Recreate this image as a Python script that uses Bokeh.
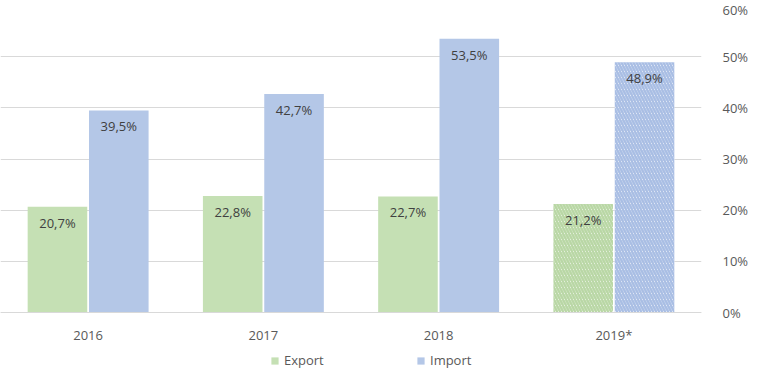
from bokeh.plotting import figure
from bokeh.models import ColumnDataSource, FixedTicker, PrintfTickFormatter, Legend, LegendItem
from bokeh.transform import dodge
from bokeh.core.properties import value
from bokeh.embed import file_html
from bokeh.resources import INLINE

years = ["2016", "2017", "2018", "2019*"]
export_vals = [20.7, 22.8, 22.7, 21.2]
import_vals = [39.5, 42.7, 53.5, 48.9]
y_ticks = [0, 10, 20, 30, 40, 50, 60]

GREEN = "#C5E0B4"
BLUE = "#B4C7E7"
FONT = "Open Sans"

def fmt(v):
    return ("%.1f%%" % v).replace(".", ",")

src_e = ColumnDataSource(dict(year=years[:3], v=export_vals[:3], lab=[fmt(v) for v in export_vals[:3]]))
src_i = ColumnDataSource(dict(year=years[:3], v=import_vals[:3], lab=[fmt(v) for v in import_vals[:3]]))
src_e2 = ColumnDataSource(dict(year=years[3:], v=export_vals[3:], lab=[fmt(v) for v in export_vals[3:]]))
src_i2 = ColumnDataSource(dict(year=years[3:], v=import_vals[3:], lab=[fmt(v) for v in import_vals[3:]]))

# extra room below zero holds the year labels and the legend
p = figure(x_range=years, y_range=(-11.7, 60), width=758, height=372,
           y_axis_location="right", output_backend="svg", toolbar_location=None,
           min_border_left=0, min_border_right=57, min_border_top=5, min_border_bottom=0)
p.outline_line_color = None
p.background_fill_color = "white"
p.border_fill_color = "white"

W = 0.34
OFF = 0.175
re = p.vbar(x=dodge("year", -OFF, range=p.x_range), top="v", width=W, source=src_e,
            fill_color=GREEN, line_color=None)
ri = p.vbar(x=dodge("year", OFF, range=p.x_range), top="v", width=W, source=src_i,
            fill_color=BLUE, line_color=None)
p.vbar(x=dodge("year", -OFF, range=p.x_range), top="v", width=W, source=src_e2,
       fill_color="white", line_color=None, hatch_pattern="\\", hatch_color="#B9D7A5",
       hatch_scale=6, hatch_weight=2.5)
p.vbar(x=dodge("year", OFF, range=p.x_range), top="v", width=W, source=src_i2,
       fill_color="white", line_color=None, hatch_pattern="\\", hatch_color="#A9BEE4",
       hatch_scale=6, hatch_weight=2.5)

for s, off in [(src_e, -OFF), (src_i, OFF), (src_e2, -OFF), (src_i2, OFF)]:
    p.text(x=dodge("year", off, range=p.x_range), y="v", text="lab", source=s,
           text_align="center", text_baseline="middle", y_offset=16,
           text_font=value(FONT), text_font_size="13px", text_color="#404040")

p.xgrid.grid_line_color = None
p.ygrid.grid_line_color = "#D9D9D9"
p.ygrid.ticker = FixedTicker(ticks=y_ticks)

ya = p.yaxis[0]
ya.ticker = FixedTicker(ticks=y_ticks)
ya.formatter = PrintfTickFormatter(format="%d%%")
ya.axis_line_color = None
ya.major_tick_line_color = None
ya.minor_tick_line_color = None
ya.major_label_standoff = 15
ya.major_label_text_font = FONT
ya.major_label_text_font_size = "13px"
ya.major_label_text_color = "#595959"

xa = p.xaxis[0]
xa.fixed_location = 0
xa.axis_line_color = "#D9D9D9"
xa.major_tick_line_color = None
xa.minor_tick_line_color = None
xa.major_label_standoff = 7
xa.major_label_text_font = FONT
xa.major_label_text_font_size = "13px"
xa.major_label_text_color = "#595959"

legend = Legend(items=[LegendItem(label="Export", renderers=[re]),
                       LegendItem(label="Import", renderers=[ri])],
                orientation="horizontal", location=(270, 3),
                glyph_width=9, glyph_height=9, label_standoff=5, label_width=60,
                spacing=72, padding=0, margin=0, border_line_color=None,
                background_fill_alpha=0, label_text_font=FONT,
                label_text_font_size="13px", label_text_color="#595959")
p.add_layout(legend, "center")

open("out.html", "w").write(file_html(p, INLINE))
